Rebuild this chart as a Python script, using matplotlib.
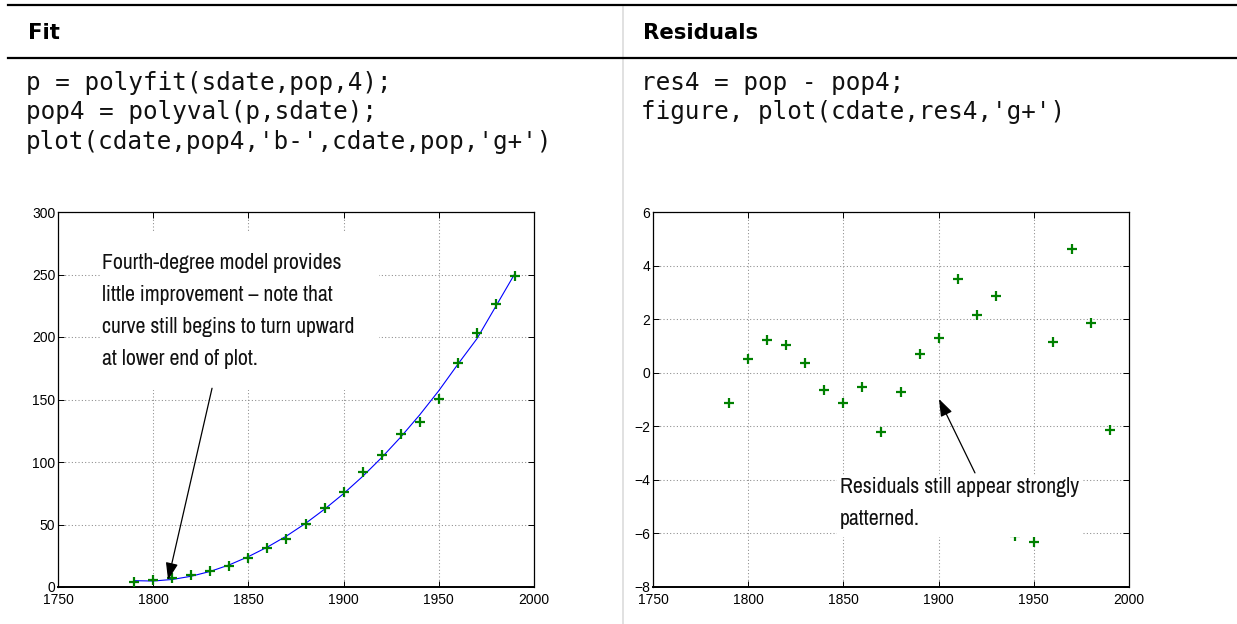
import numpy as np
import matplotlib
matplotlib.use("Agg")
import matplotlib.pyplot as plt
from matplotlib.lines import Line2D
from matplotlib.patches import Rectangle
from matplotlib import font_manager as fm

# ---------------- data ----------------
cdate = [1790, 1800, 1810, 1820, 1830, 1840, 1850, 1860, 1870, 1880, 1890,
         1900, 1910, 1920, 1930, 1940, 1950, 1960, 1970, 1980, 1990]
pop = [3.93, 5.31, 7.24, 9.64, 12.87, 17.07, 23.19, 31.44, 38.56, 50.16, 62.95,
       76.00, 91.97, 105.71, 122.78, 131.67, 150.70, 179.32, 203.21, 226.51, 248.71]
pop4 = [5.07, 4.78, 6.02, 8.62, 12.49, 17.73, 24.31, 31.96, 40.78, 50.88, 62.26,
        74.72, 88.46, 103.55, 119.93, 137.77, 157.03, 178.18, 198.58, 224.67, 250.83]
res4 = [-1.14, 0.53, 1.22, 1.02, 0.38, -0.66, -1.12, -0.52, -2.22, -0.72, 0.69,
        1.28, 3.51, 2.16, 2.85, -6.10, -6.33, 1.14, 4.63, 1.84, -2.12]

x_ticks = [1750, 1800, 1850, 1900, 1950, 2000]
fit_yticks = [0, 50, 100, 150, 200, 250, 300]
res_yticks = [-8, -6, -4, -2, 0, 2, 4, 6]

headers = ["Fit", "Residuals"]
code_left = ["p = polyfit(sdate,pop,4);",
             "pop4 = polyval(p,sdate);",
             "plot(cdate,pop4,'b-',cdate,pop,'g+')"]
code_right = ["res4 = pop - pop4;",
              "figure, plot(cdate,res4,'g+')"]
note_left = ("Fourth-degree model provides\n"
             "little improvement \u2013 note that\n"
             "curve still begins to turn upward\n"
             "at lower end of plot.")
note_right = "Residuals still appear strongly\npatterned."

# ---------------- fonts ----------------
narrow_path = None
cond_path = None
for f in fm.fontManager.ttflist:
    base = f.fname.split('/')[-1].lower()
    if 'bold' in base or 'italic' in base or 'oblique' in base:
        continue
    if 'narrow' in base or 'Narrow' in f.name:
        narrow_path = narrow_path or f.fname
    if base.startswith('dejavusanscondensed'):
        cond_path = cond_path or f.fname
note_size = 15.7
if narrow_path:
    note_fp = fm.FontProperties(fname=narrow_path, size=note_size)
elif cond_path:
    note_fp = fm.FontProperties(fname=cond_path, size=note_size - 2)
else:
    note_fp = fm.FontProperties(family='DejaVu Sans', size=note_size - 3)

W, H = 1237, 624
fig = plt.figure(figsize=(W / 100, H / 100), dpi=100)
fig.patch.set_facecolor('white')

def fx(x):
    return x / W

def fy(y):
    return 1 - y / H

# header lines
fig.add_artist(Line2D([fx(8), 1.0], [fy(5), fy(5)], transform=fig.transFigure,
                      color='black', lw=1.6))
fig.add_artist(Line2D([fx(8), 1.0], [fy(58), fy(58)], transform=fig.transFigure,
                      color='black', lw=1.6))
fig.add_artist(Line2D([fx(623), fx(623)], [fy(7), 0.0], transform=fig.transFigure,
                      color='#dcdcdc', lw=1.2, zorder=0))

mono = 'DejaVu Sans Mono'
for x0, head, code in [(28, headers[0], code_left), (643, headers[1], code_right)]:
    fig.text(fx(x0), fy(39), head, fontsize=15.3, fontweight='bold',
             family='DejaVu Sans', ha='left', va='baseline')
    for i, line in enumerate(code):
        fig.text(fx(x0 - 2), fy(90 + 29.5 * i), line, fontsize=17.5, family=mono,
                 ha='left', va='baseline', color='#111111')

tick_font = {'family': 'Liberation Sans', 'size': 10}

def style_axes(ax, yticks):
    ax.set_xlim(x_ticks[0], x_ticks[-1])
    ax.set_ylim(yticks[0], yticks[-1])
    ax.set_xticks(x_ticks)
    ax.set_yticks(yticks)
    ax.set_xticklabels([str(t) for t in x_ticks], **tick_font)
    ax.set_yticklabels([str(t).replace('-', '\u2212') for t in yticks], **tick_font)
    ax.tick_params(direction='in', length=4, width=0.7, top=True, right=True,
                   colors='black')
    ax.tick_params(axis='x', pad=4)
    ax.tick_params(axis='y', pad=2)
    ax.grid(True, color='#8a8a8a', linestyle=(0, (1, 2.2)), lw=0.75)
    ax.set_axisbelow(True)
    for s in ['left', 'top', 'right']:
        ax.spines[s].set_linewidth(0.9)
    ax.spines['bottom'].set_linewidth(1.4)

arrow_props = dict(arrowstyle='-|>,head_length=0.7,head_width=0.25',
                   mutation_scale=15, lw=0.9, color='black', shrinkA=0, shrinkB=0)

# ---------------- left: fit ----------------
ax1 = fig.add_axes([fx(58), fy(587), fx(534) - fx(58), fy(212) - fy(587)])
style_axes(ax1, fit_yticks)
ax1.plot(cdate, pop4, '-', color='#0000ff', lw=0.8, zorder=3)
ax1.plot(cdate, pop, '+', color='#008000', ms=7, mew=1.6, zorder=4)
ax1.add_patch(Rectangle((1772, 157.6), 146.6, 126.4, facecolor='white',
                        edgecolor='none', zorder=5))
ax1.text(1773, 267.5, note_left, fontproperties=note_fp,
         ha='left', va='top', linespacing=1.75, zorder=6, color='#111111')
ax1.annotate('', xy=(1807.8, 5.6), xytext=(1830.9, 159),
             arrowprops=arrow_props, zorder=7)

# ---------------- right: residuals ----------------
ax2 = fig.add_axes([fx(653), fy(587), fx(1129) - fx(653), fy(212) - fy(587)])
style_axes(ax2, res_yticks)
ax2.plot(cdate, res4, '+', color='#008000', ms=7, mew=1.6, zorder=4)
ax2.add_patch(Rectangle((1846.6, -6.15), 128.7, 2.33, facecolor='white',
                        edgecolor='none', zorder=5))
ax2.text(1848, -3.9, note_right, fontproperties=note_fp,
         ha='left', va='top', linespacing=1.72, zorder=6, color='#111111')
ax2.annotate('', xy=(1900.2, -0.98), xytext=(1919.1, -3.74),
             arrowprops=arrow_props, zorder=7)

fig.savefig('out.png', dpi=100, facecolor='white')
